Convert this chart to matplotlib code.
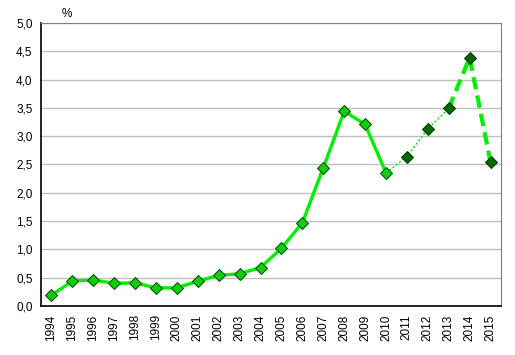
import numpy as np
import matplotlib.pyplot as plt
from matplotlib.ticker import MultipleLocator, FuncFormatter

plt.rcParams['font.family'] = ['Liberation Sans', 'DejaVu Sans']

years = [str(y) for y in range(1994, 2016)]
values = [0.19, 0.44, 0.46, 0.40, 0.41, 0.32, 0.32, 0.44, 0.54, 0.57, 0.68,
          1.02, 1.47, 2.44, 3.44, 3.21, 2.35, 2.64, 3.13, 3.49, 4.39, 2.54]

x = np.arange(len(years))
v = np.array(values)
i10 = years.index('2010')
i13 = years.index('2013')

fig = plt.figure(figsize=(5.15, 3.55), dpi=100)
ax = fig.add_axes([41/515, 1 - 306/355, 460/515, 283/355])

line_col = '#00ee00'
ax.plot(x[:i10+1], v[:i10+1], color=line_col, lw=2.4, zorder=2)
ax.plot(x[i10:i13+1], v[i10:i13+1], color=line_col, lw=1.0, ls=(0, (1.5, 1.5)), zorder=2)
ax.plot(x[i13:], v[i13:], color=line_col, lw=3.0, ls=(0, (3, 1.5)), zorder=2)

ax.plot(x[:i10+1], v[:i10+1], ls='none', marker='D', ms=6, mfc='#11cc11', mec='#004400', mew=0.7, zorder=3)
ax.plot(x[i10+1:], v[i10+1:], ls='none', marker='D', ms=6, mfc='#006a00', mec='#003300', mew=0.7, zorder=3)

ax.set_xlim(-0.5, len(years) - 0.5)
ax.set_ylim(0, 5)
ax.yaxis.set_major_locator(MultipleLocator(0.5))
ax.yaxis.set_major_formatter(FuncFormatter(lambda val, pos: f"{val:.1f}".replace('.', ',')))
ax.set_xticks(x)
ax.set_xticklabels(years, rotation=90)
ax.tick_params(length=0, labelsize=8.5, colors='black')
ax.tick_params(axis='y', pad=6)
ax.tick_params(axis='x', pad=6)

ax.grid(axis='y', color='#c0c0c0', lw=1)
ax.set_axisbelow(True)
for s in ['top', 'right']:
    ax.spines[s].set_color('#808080')
for s in ['left', 'bottom']:
    ax.spines[s].set_color('black')
    ax.spines[s].set_linewidth(1.2)

fig.text(67/515, 1 - 14/355, '%', fontsize=8.5, ha='center', va='center')

plt.savefig('out.png', dpi=100)
